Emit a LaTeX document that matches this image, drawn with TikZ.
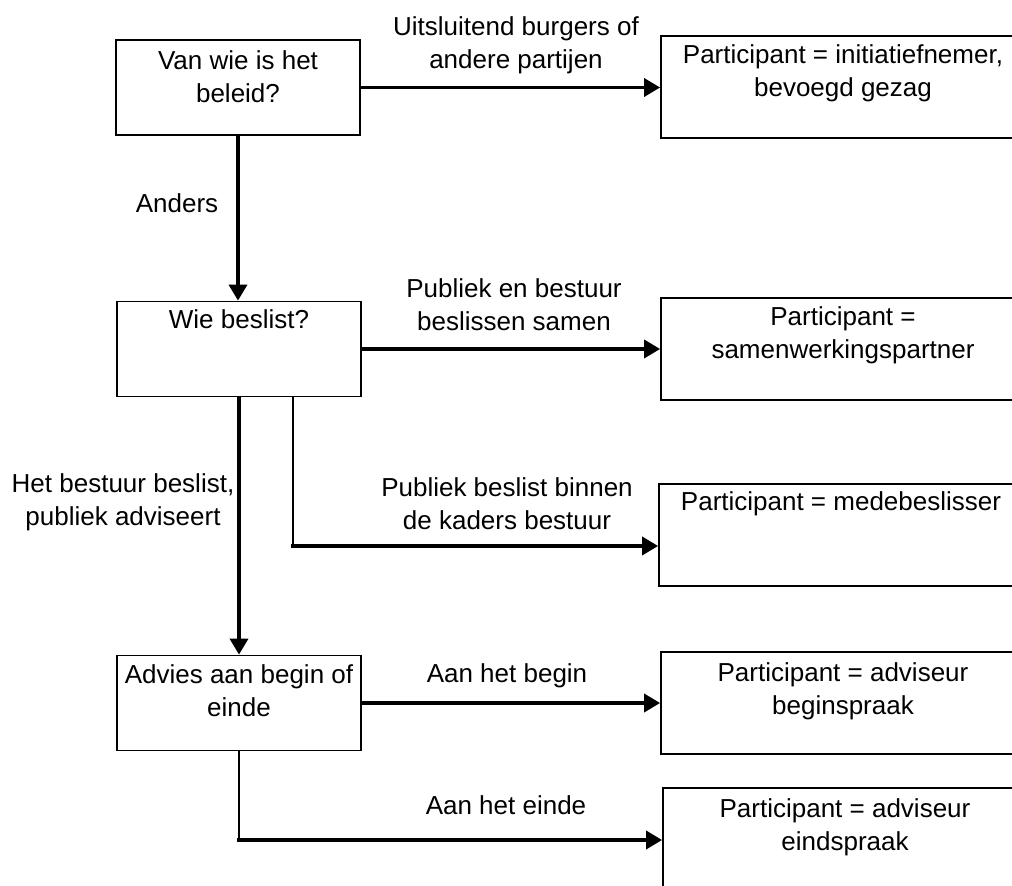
\documentclass[tikz,border=0pt]{standalone}
\usepackage{fontspec}
\setmainfont{Liberation Sans}
\usetikzlibrary{arrows.meta}
\begin{document}
\begin{tikzpicture}[x=1pt, y=-1pt,
  font=\fontsize{26}{33}\selectfont,
  qbox/.style={draw, line width=1.8pt, rectangle, inner sep=0pt,
               minimum width=244pt, minimum height=95pt},
  pbox/.style={draw, line width=1.8pt, rectangle, inner sep=0pt,
               minimum width=364pt, minimum height=102pt},
  boxtext/.style={anchor=north, align=center, inner sep=0pt},
  edgetext/.style={anchor=north, align=center, inner sep=0pt},
  flow/.style={line width=3.6pt, -{Triangle[length=16pt,width=18pt]}},
  branch/.style={line width=1.8pt}]

\useasboundingbox (0,0) rectangle (1012,886);
\clip (0,0) rectangle (1012,886);

% question boxes
\node[qbox] (q1) at (238,87.5) {};
\node[qbox] (q2) at (239,349) {};
\node[qbox] (q3) at (239,703) {};
\node[boxtext] (q1t) at ([yshift=-11pt]q1.north) {Van wie is het\\beleid?};
\node[boxtext] (q2t) at ([yshift=-9pt]q2.north) {Wie beslist?};
\node[boxtext] (q3t) at ([yshift=-10pt]q3.north) {Advies aan begin of\\einde};

% participant boxes
\node[pbox] (p1) at (843,87) {};
\node[pbox] (p2) at (843,349) {};
\node[pbox] (p3) at (841,535) {};
\node[pbox] (p4) at (843,703) {};
\node[pbox] (p5) at (845,839) {};
\node[boxtext] (p1t) at ([yshift=-9pt]p1.north) {Participant = initiatiefnemer,\\bevoegd gezag};
\node[boxtext] (p2t) at ([yshift=-9pt]p2.north) {Participant =\\samenwerkingspartner};
\node[boxtext] (p3t) at ([yshift=-8pt]p3.north) {Participant = medebeslisser};
\node[boxtext] (p4t) at ([yshift=-11pt]p4.north) {Participant = adviseur\\beginspraak};
\node[boxtext] (p5t) at ([yshift=-11pt]p5.north) {Participant = adviseur\\eindspraak};

% corner points of the bent connectors
\coordinate (c3) at (293,546);
\coordinate (c5) at (239,840);

% connectors
\draw[flow] (q1.east) -- (q1.east -| p1.west);
\draw[flow] (q1.south) -- (q1.south |- q2.north);
\draw[flow] (q2.south) -- (q2.south |- q3.north);
\draw[flow] (q2.east) -- (q2.east -| p2.west);
\draw[branch] (q2.south -| c3) -- (c3);
\draw[flow] ([xshift=-2pt]c3) -- (c3 -| p3.west);
\draw[flow] (q3.east) -- (q3.east -| p4.west);
\draw[branch] (q3.south) -- (c5);
\draw[flow] ([xshift=-2pt]c5) -- (c5 -| p5.west);

% connector labels
\node[edgetext] (l1) at (516,16) {Uitsluitend burgers of\\andere partijen};
\node[edgetext] (l2) at (514,278) {Publiek en bestuur\\beslissen samen};
\node[edgetext] (l3) at (507,477) {Publiek beslist binnen\\de kaders bestuur};
\node[edgetext] (l4) at (507,663) {Aan het begin};
\node[edgetext] (l5) at (506,795) {Aan het einde};
\node[edgetext] (l6) at (177,193) {Anders};
\node[edgetext] (l7) at (123,473) {Het bestuur beslist,\\publiek adviseert};

\end{tikzpicture}
\end{document}
